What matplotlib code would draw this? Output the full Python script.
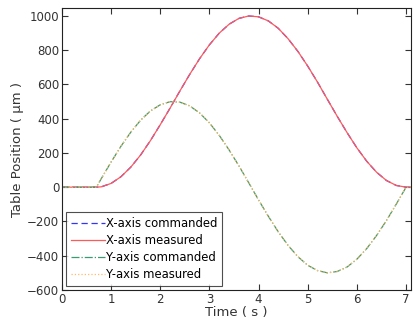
from matplotlib import pyplot as plt
import numpy as np

# time samples (s) and positions (um)
t = [0.0, 0.2, 0.4, 0.6, 0.7, 0.8, 1.0, 1.2, 1.4, 1.6, 1.8, 2.0, 2.2, 2.4, 2.6,
     2.8, 3.0, 3.2, 3.4, 3.6, 3.8, 4.0, 4.2, 4.4, 4.6, 4.8, 5.0, 5.2, 5.4,
     5.6, 5.8, 6.0, 6.2, 6.4, 6.6, 6.8, 7.0, 7.1]
x_cmd = [0, 0, 0, 0, 0, 2, 22, 61, 117, 188, 272, 365, 462, 562, 659,
         750, 831, 899, 951, 985, 999, 994, 970, 927, 866, 792, 706, 612, 512,
         413, 318, 229, 151, 87, 39, 10, 0, 0]
y_cmd = [0, 0, 0, 0, 0, 50, 147, 239, 321, 391, 445, 481, 499, 496, 474,
         433, 375, 302, 217, 124, 25, -75, -171, -261, -340, -406, -456, -487, -500,
         -492, -466, -420, -358, -282, -195, -99, 0, 0]
x_meas = list(x_cmd)
y_meas = list(y_cmd)

fig = plt.figure(figsize=(4.16, 3.24), dpi=100)
ax = fig.add_axes([0.149, 0.105, 0.839, 0.870])

ax.plot(t, x_cmd, color='#3333ff', ls=(0, (5, 3)), lw=0.9, label='X-axis commanded')
ax.plot(t, x_meas, color='#ff5a5a', ls='-', lw=0.9, label='X-axis measured')
ax.plot(t, y_cmd, color='#3d9970', ls='-.', lw=0.9, label='Y-axis commanded')
ax.plot(t, y_meas, color='#ffbb66', ls=':', lw=0.9, label='Y-axis measured')

ax.set_xlim(0, 7.1)
ax.set_ylim(-600, 1045)
ax.set_xticks(range(0, 8))
ax.set_yticks(range(-600, 1001, 200))
ax.tick_params(direction='in', top=True, right=True, labelsize=8.5,
               colors='#333333', length=4, pad=2)
for s in ax.spines.values():
    s.set_color('#222222')

ax.set_xlabel('Time ( s )', fontsize=9.5, color='#333333', labelpad=0.5)
ax.set_ylabel('Table Position ( μm )', fontsize=9.5, color='#333333', labelpad=2)

leg = ax.legend(loc='lower left', fontsize=8.4, frameon=True, fancybox=False,
                borderpad=0.4, labelspacing=0.35, handlelength=2.9,
                handletextpad=0.1, borderaxespad=0.35)
leg.get_frame().set_edgecolor('#222222')
leg.get_frame().set_linewidth(0.8)

fig.savefig('out.png', dpi=100)
